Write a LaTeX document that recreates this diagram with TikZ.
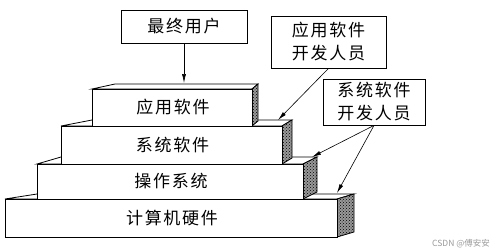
\documentclass[tikz,border=0pt]{standalone}
\usepackage{fontspec}
\usetikzlibrary{arrows.meta,patterns}
\newfontfamily\cjk{Noto Sans CJK SC}
\newfontfamily\cjkwide[LetterSpace=10]{Noto Sans CJK SC}

\tikzset{
  lblbox/.style={draw, line width=0.8pt, fill=white, align=center, inner sep=0pt,
    font=\cjkwide\fontsize{17}{23}\selectfont},
  ptr/.style={line width=0.6pt, -{Latex[length=9pt,width=4pt]}}
}

\begin{document}
\begin{tikzpicture}[x=1pt,y=-1pt]
\useasboundingbox (0,0) rectangle (499,252);
% the four layers, from the bottom up: x0/x1/top/bottom/left depth/right depth/rise/label
\foreach \xa/\xb/\yt/\yb/\dl/\dr/\dy/\lbl [count=\i] in
  {5/337/199/237/32/17/5/计算机硬件, 37/303/164/199/24/14/7/操作系统,
   61/282/126/164/31/10/6/系统软件, 92/252/89/126/23/6/5/应用软件}{
  \draw[line width=0.8pt, fill=white] (\xa,\yt) -- (\xa+\dl,\yt-\dy) -- (\xb+\dr,\yt-\dy) -- (\xb,\yt) -- cycle;
  \draw[line width=0.8pt, preaction={fill=black!40}, pattern=crosshatch dots, pattern color=black]
    (\xb,\yt) -- (\xb+\dr,\yt-\dy) -- (\xb+\dr,\yb-\dy) -- (\xb,\yb) -- cycle;
  \draw[line width=0.8pt, fill=white] (\xa,\yt) rectangle (\xb,\yb);
  \node[font=\cjkwide\fontsize{17}{20}\selectfont] (lay\i) at ({(\xa+\xb)/2+1},{(\yt+\yb)/2}) {\lbl};
}
% who works on which layer
\node[lblbox, minimum width=126pt, minimum height=33pt] (user) at (184,26.5) {最终用户};
\node[lblbox, minimum width=115pt, minimum height=52pt] (appdev) at (328.5,42) {应用软件\\开发人员};
\node[lblbox, minimum width=102pt, minimum height=46pt] (sysdev) at (374,102) {系统软件\\开发人员};
\coordinate (toApp) at (184,83);
\coordinate (toSys) at (278,120);
\coordinate (toOs) at (312,157);
\coordinate (toHw) at (337,193);
\draw[ptr] (user) -- (toApp);
\draw[ptr] (appdev.south) -- (toSys);
\draw[ptr] (sysdev.south) -- (toOs);
\draw[ptr] (sysdev.south) -- (toHw);
\node[font=\cjk\fontsize{8.5}{10}\selectfont, text=black!40] (mark) at (461,244) {CSDN @傅安安};
\end{tikzpicture}
\end{document}
